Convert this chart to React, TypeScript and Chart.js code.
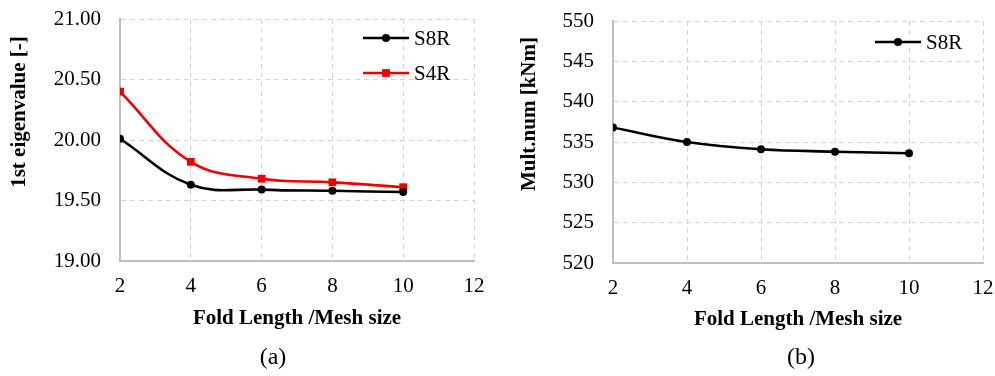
import React, { useEffect, useRef } from "react";
import { Chart, registerables } from "chart.js";
Chart.register(...registerables);

// ---------- data ----------
const foldLength = [2, 4, 6, 8, 10];
const eigenS8R = [20.01, 19.63, 19.59, 19.58, 19.57];
const eigenS4R = [20.4, 19.82, 19.68, 19.65, 19.61];
const multS8R = [536.8, 535.0, 534.1, 533.8, 533.6];
const xTickValues = [2, 4, 6, 8, 10, 12];
const eigenTickValues = [19.0, 19.5, 20.0, 20.5, 21.0];
const multTickValues = [520, 525, 530, 535, 540, 545, 550];
const xTitleText = "Fold Length /Mesh size";
const eigenTitleText = "1st eigenvalue [-]";
const multTitleText = "Mult.num [kNm]";
const captionA = "(a)";
const captionB = "(b)";

const SERIF = '"Liberation Serif", "Times New Roman", serif';
const GRID = "#d4d4d4";
const AXIS = "#bfbfbf";
const RED = "#ee0000";

const decor = {
  id: "decor",
  afterDraw(chart: any, _args: any, opts: any) {
    const { ctx, chartArea } = chart;
    ctx.save();
    ctx.fillStyle = "#000";
    ctx.textAlign = "center";
    ctx.textBaseline = "middle";
    // x title
    ctx.font = `bold 21px ${SERIF}`;
    ctx.fillText(opts.xTitle, (chartArea.left + chartArea.right) / 2, opts.xTitleY);
    // y title
    ctx.save();
    ctx.translate(opts.yTitleX, opts.yTitleY);
    ctx.rotate(-Math.PI / 2);
    ctx.fillText(opts.yTitle, 0, 0);
    ctx.restore();
    // caption
    ctx.font = `24px ${SERIF}`;
    ctx.fillText(opts.caption, opts.captionX, opts.captionY);
    // legend
    chart.data.datasets.forEach((ds: any, i: number) => {
      const y = chartArea.top + opts.legendTop + i * opts.legendGap;
      const x0 = chartArea.right - opts.legendRight;
      const x1 = x0 + 46;
      ctx.strokeStyle = ds.borderColor;
      ctx.lineWidth = ds.borderWidth;
      ctx.beginPath();
      ctx.moveTo(x0, y);
      ctx.lineTo(x1, y);
      ctx.stroke();
      const cx = (x0 + x1) / 2;
      ctx.fillStyle = ds.pointBackgroundColor;
      if (ds.pointStyle === "rect") {
        const s = Math.SQRT1_2 * ds.pointRadius;
        ctx.fillRect(cx - s, y - s, 2 * s, 2 * s);
      } else {
        ctx.beginPath();
        ctx.arc(cx, y, ds.pointRadius, 0, Math.PI * 2);
        ctx.fill();
      }
      ctx.fillStyle = "#000";
      ctx.font = `21px ${SERIF}`;
      ctx.textAlign = "left";
      ctx.fillText(ds.label, x1 + 5, y + 1);
      ctx.textAlign = "center";
    });
    ctx.restore();
  },
};

function makeDataset(label: string, values: number[], color: string, style: string, radius: number) {
  return {
    label,
    data: foldLength.map((x, i) => ({ x, y: values[i] })),
    borderColor: color,
    backgroundColor: color,
    pointBackgroundColor: color,
    pointBorderColor: color,
    pointStyle: style,
    pointRadius: radius,
    pointBorderWidth: 0,
    borderWidth: 2.6,
    tension: 0.4,
    fill: false,
  };
}

function zeroPad(s: any) {
  s.paddingTop = 0;
  s.paddingBottom = 0;
  s.paddingLeft = 0;
  s.paddingRight = 0;
}

function makeConfig(p: any): any {
  return {
    type: "line",
    data: { datasets: p.datasets },
    plugins: [decor],
    options: {
      responsive: false,
      animation: false,
      devicePixelRatio: 1,
      layout: { padding: { top: p.top, right: p.right, left: 0, bottom: 0 } },
      plugins: {
        legend: { display: false },
        tooltip: { enabled: false },
        decor: p.decor,
      },
      scales: {
        x: {
          type: "linear",
          min: 2,
          max: 12,
          afterBuildTicks: (s: any) => {
            s.ticks = xTickValues.map((v) => ({ value: v }));
          },
          afterFit: (s: any) => {
            s.height = p.xHeight;
            zeroPad(s);
          },
          ticks: {
            font: { family: SERIF, size: 21 },
            color: "#000",
            padding: 13,
            maxRotation: 0,
            callback: (v: number) => String(v),
          },
          grid: { color: GRID, lineWidth: 1, drawTicks: false },
          border: { display: true, color: AXIS, width: 2, dash: [5, 4] },
        },
        y: {
          type: "linear",
          min: p.yTicks[0],
          max: p.yTicks[p.yTicks.length - 1],
          afterBuildTicks: (s: any) => {
            s.ticks = p.yTicks.map((v: number) => ({ value: v }));
          },
          afterFit: (s: any) => {
            s.width = p.yWidth;
            zeroPad(s);
          },
          ticks: {
            font: { family: SERIF, size: 21 },
            color: "#000",
            padding: 19,
            callback: p.yFormat,
          },
          grid: { color: GRID, lineWidth: 1, drawTicks: false },
          border: { display: true, color: AXIS, width: 2, dash: [5, 4] },
        },
      },
    },
  };
}

function ChartCanvas({ config, width, height }: any) {
  const ref = useRef<HTMLCanvasElement>(null);
  useEffect(() => {
    if (!ref.current) return;
    const chart = new Chart(ref.current, config);
    return () => chart.destroy();
  }, []);
  return <canvas ref={ref} width={width} height={height} style={{ width, height, display: "block" }} />;
}

export default function App() {
  const left = makeConfig({
    datasets: [
      makeDataset("S8R", eigenS8R, "#000000", "circle", 4),
      makeDataset("S4R", eigenS4R, RED, "rect", 5.5),
    ],
    top: 19,
    right: 23,
    xHeight: 115,
    yWidth: 120,
    yTicks: eigenTickValues,
    yFormat: (v: number) => Number(v).toFixed(2),
    decor: {
      xTitle: xTitleText,
      xTitleY: 319,
      yTitle: eigenTitleText,
      yTitleX: 20,
      yTitleY: 112,
      caption: captionA,
      captionX: 273,
      captionY: 358,
      legendTop: 19,
      legendGap: 35,
      legendRight: 111,
    },
  });
  const right = makeConfig({
    datasets: [makeDataset("S8R", multS8R, "#000000", "circle", 4)],
    top: 21,
    right: 12,
    xHeight: 113,
    yWidth: 116,
    yTicks: multTickValues,
    yFormat: (v: number) => String(Math.round(v)),
    decor: {
      xTitle: xTitleText,
      xTitleY: 320,
      yTitle: multTitleText,
      yTitleX: 33,
      yTitleY: 114,
      caption: captionB,
      captionX: 304,
      captionY: 358,
      legendTop: 21,
      legendGap: 35,
      legendRight: 108,
    },
  });
  return (
    <div style={{ position: "absolute", left: 0, top: 0, width: 995, height: 376, background: "#fff" }}>
      <div style={{ position: "absolute", left: 0, top: 0 }}>
        <ChartCanvas config={left} width={497} height={376} />
      </div>
      <div style={{ position: "absolute", left: 497, top: 0 }}>
        <ChartCanvas config={right} width={498} height={376} />
      </div>
    </div>
  );
}
